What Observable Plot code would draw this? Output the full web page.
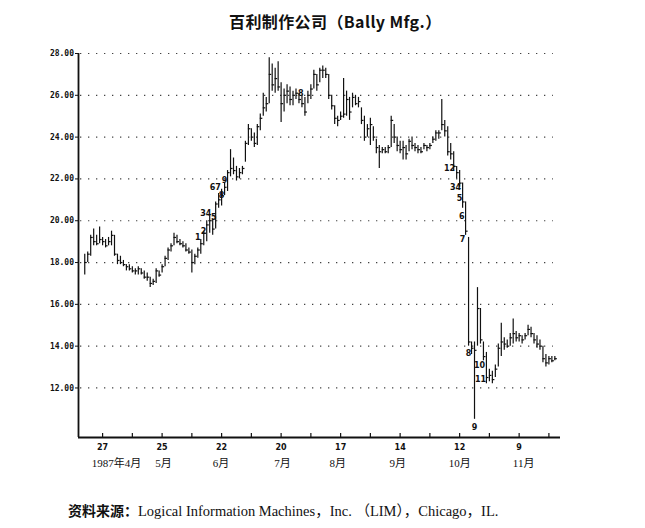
<!DOCTYPE html>
<html>
<head>
<meta charset="utf-8">
<script src="https://cdn.jsdelivr.net/npm/d3@7"></script>
<script src="https://cdn.jsdelivr.net/npm/@observablehq/plot@0.6"></script>
<style>
  body { margin: 0; background: #fff; width: 645px; height: 528px; position: relative; overflow: hidden; }
  #title { position: absolute; top: 9px; left: 229px; font: bold 16px "Noto Sans CJK SC", sans-serif; color: #111; white-space: nowrap; letter-spacing: 0.4px; }
  #chart { position: absolute; top: 40px; left: 0; }
  #caption { position: absolute; top: 499px; left: 68px; font: 14.5px "Liberation Serif", "Noto Sans CJK SC", serif; color: #111; white-space: nowrap; }
  #caption b { font-family: "Noto Sans CJK SC", sans-serif; font-weight: bold; font-size: 14px; }
</style>
</head>
<body>
<div id="title">百利制作公司（Bally Mfg.）</div>
<div id="chart"></div>
<div id="caption"><b>资料来源：</b>Logical Information Machines，Inc. （LIM），Chicago，IL.</div>
<script>
// Daily bars (trading days from mid-April to late November 1987)
const high = [
  18.4,18.5,19.3,19.6,19.3,19.7,19.2,19.1,19.2,19.5,
  19.3,18.4,18.3,18.1,17.9,17.9,17.8,17.7,17.8,17.7,
  17.6,17.5,17.3,17.2,17.7,17.6,17.9,18.3,18.7,18.9,
  19.4,19.3,19.1,19.0,18.9,18.7,18.6,18.4,18.7,19.1,
  19.5,20.0,20.2,20.1,20.9,21.3,21.5,21.8,22.4,23.4,
  23.0,22.6,22.5,22.6,23.8,24.6,24.4,24.2,24.6,25.1,
  26.1,25.9,27.8,27.5,27.3,27.6,26.6,26.3,26.5,26.4,
  26.2,26.3,26.1,26.0,25.9,26.2,26.5,27.2,27.0,27.3,
  27.4,27.3,27.0,26.0,25.5,25.0,25.2,26.8,26.2,25.9,
  26.1,26.0,25.9,25.4,25.0,24.6,24.9,24.5,23.9,23.6,
  23.5,23.5,23.6,25.0,24.6,24.0,23.8,23.8,23.6,23.9,
  24.0,23.7,23.6,23.5,23.7,23.6,23.7,24.0,24.3,24.3,
  25.8,24.8,24.5,23.7,23.3,22.6,22.4,21.8,20.9,19.2,
  14.2,14.2,16.8,15.8,14.2,13.7,12.9,12.8,13.1,14.1,
  15.1,14.4,14.3,14.6,15.3,14.7,14.6,14.5,14.6,15.0,
  14.9,14.6,14.5,14.3,14.0,13.6,13.5,13.5,13.5
];
const low = [
  17.4,18.0,18.3,18.8,18.8,18.9,18.8,18.7,18.8,18.8,
  18.3,17.9,17.9,17.8,17.6,17.6,17.5,17.4,17.4,17.4,
  17.2,17.1,16.8,16.9,17.0,17.3,17.5,17.8,18.1,18.5,
  18.8,18.9,18.8,18.7,18.5,18.4,17.5,17.9,18.2,18.4,
  18.8,19.0,19.4,19.3,19.6,20.6,20.7,21.2,21.4,22.1,
  22.2,21.9,22.0,22.2,22.8,23.6,23.8,23.5,23.6,24.3,
  25.0,25.2,25.6,26.2,26.1,26.2,24.7,25.2,25.6,25.5,
  25.5,25.8,25.6,25.4,25.0,25.6,25.8,26.3,26.2,26.6,
  26.8,26.8,25.8,25.3,24.6,24.5,24.8,24.9,25.0,24.8,
  25.4,25.5,25.4,24.6,23.8,24.0,23.6,23.8,23.2,22.5,
  23.2,23.2,23.2,23.5,23.7,23.3,23.2,22.9,22.9,23.3,
  23.4,23.3,23.2,23.2,23.4,23.3,23.4,23.7,23.8,23.9,
  24.3,24.0,23.1,22.9,22.4,22.0,21.6,20.6,19.3,14.0,
  13.6,10.5,14.0,14.1,13.3,12.2,12.3,12.2,12.5,13.0,
  13.5,13.8,13.9,14.0,14.1,14.2,14.2,14.1,14.3,14.5,
  14.4,14.1,13.9,13.8,13.2,13.0,13.1,13.2,13.3
];
const close = [
  18.0,18.4,19.2,19.0,18.9,19.1,19.0,18.8,19.0,19.3,
  18.4,18.1,18.0,17.9,17.8,17.7,17.6,17.6,17.7,17.5,
  17.3,17.3,17.0,17.1,17.6,17.4,17.8,18.2,18.6,18.8,
  19.2,19.0,18.9,18.8,18.6,18.5,18.0,18.3,18.6,18.9,
  19.4,19.8,20.0,19.6,20.8,21.0,21.2,21.6,22.3,22.5,
  22.4,22.1,22.3,22.5,23.7,24.4,24.0,23.7,24.5,24.9,
  25.4,25.6,27.0,26.5,26.8,26.4,25.6,26.0,26.2,25.8,
  26.0,26.1,25.8,25.6,25.2,26.0,26.3,27.0,26.5,27.2,
  27.2,27.0,26.0,25.5,24.9,24.8,25.0,25.1,25.8,25.2,
  25.9,25.6,25.7,24.8,24.0,24.4,24.6,24.0,23.5,23.3,
  23.4,23.3,23.5,24.8,24.0,23.6,23.4,23.5,23.2,23.8,
  23.6,23.5,23.4,23.3,23.6,23.5,23.6,23.9,24.2,24.2,
  24.6,24.3,23.3,23.2,22.6,22.3,21.8,20.9,19.5,14.2,
  13.9,13.8,15.8,14.3,13.5,12.5,12.6,12.4,12.9,13.9,
  14.2,14.1,14.0,14.4,14.6,14.4,14.5,14.3,14.5,14.8,
  14.6,14.3,14.1,14.0,13.4,13.2,13.4,13.3,13.4
];

// Axis ticks (trading-day index) and labels
const majorTicks = [6, 26, 46, 66, 86, 106, 126, 146];
const tickLabels = ["27", "25", "22", "20", "17", "14", "12", "9"];
const minorTicks = [16, 36, 56, 76, 96, 116, 136, 156];
const monthAt = [10.7, 26.5, 45.8, 66.5, 85, 105.2, 126, 147.5];
const monthLabels = ["1987年4月", "5月", "6月", "7月", "8月", "9月", "10月", "11月"];
const yTicks = [12, 14, 16, 18, 20, 22, 24, 26, 28];

// Count annotations on the chart
const noteAt = [38.0, 39.9, 40.7, 43.4, 43.9, 46.0, 47.0, 72.6,
                122.6, 124.6, 126.0, 126.7, 127.0, 129.0, 131.0, 132.7, 133.0];
const noteVal = [19.2, 19.5, 20.35, 20.15, 21.6, 21.2, 21.95, 26.1,
                 22.5, 21.6, 21.05, 20.2, 19.1, 13.65, 10.1, 13.1, 12.4];
const noteText = ["1", "2", "34", "5", "67", "8", "9", "8",
                  "12", "34", "5", "6", "7", "8", "9", "10", "11"];

const bars = high.map((h, i) => ({ i, high: h, low: low[i], close: close[i] }));
const notes = noteText.map((t, k) => ({ x: noteAt[k], y: noteVal[k], t }));
const months = monthLabels.map((t, k) => ({ x: monthAt[k], t }));

const yMin = 9.63, yMax = 28;
const xMin = -2.1, xMax = 159.9;

const chart = Plot.plot({
  width: 645,
  height: 440,
  marginTop: 13,
  marginBottom: 43,
  marginLeft: 78,
  marginRight: 85,
  x: { domain: [xMin, xMax] },
  y: { domain: [yMin, yMax] },
  style: { background: "white", color: "#111", overflow: "visible" },
  marks: [
    Plot.ruleY(yTicks, { y: d => d, x1: -1.4, x2: 157.5, stroke: "#333", strokeWidth: 1.2, strokeDasharray: "1.2,6.8" }),
    Plot.ruleX(bars, { x: "i", y1: "low", y2: "high", stroke: "#111", strokeWidth: 1.2 }),
    Plot.ruleY(bars, { y: "close", x1: "i", x2: d => d.i + 0.85, stroke: "#111", strokeWidth: 1.2 }),
    Plot.ruleX([xMin], { stroke: "#111", strokeWidth: 1.8 }),
    Plot.ruleY([yMin], { stroke: "#111", strokeWidth: 1.8 }),
    Plot.ruleX(majorTicks.concat(minorTicks), { x: d => d, insetTop: 380, stroke: "#111", strokeWidth: 1.2 }),
    Plot.axisY({
      ticks: yTicks, tickFormat: d3.format(".2f"), tickSize: 3, tickPadding: 1.5,
      fontSize: 8, fontFamily: "DejaVu Sans Mono", fontWeight: "bold"
    }),
    Plot.axisX({
      ticks: majorTicks, tickFormat: d => tickLabels[majorTicks.indexOf(d)], tickSize: 0, tickPadding: 7,
      fontSize: 8, fontFamily: "DejaVu Sans", fontWeight: "bold"
    }),
    Plot.text(months, {
      x: "x", text: "t", frameAnchor: "bottom", dy: 29,
      fontSize: 11, fontFamily: "Liberation Serif, Noto Sans CJK SC"
    }),
    Plot.text(notes, {
      x: "x", y: "y", text: "t", fontSize: 8, fontWeight: "bold", fontFamily: "DejaVu Sans"
    })
  ]
});
document.getElementById("chart").appendChild(chart);
</script>
</body>
</html>
